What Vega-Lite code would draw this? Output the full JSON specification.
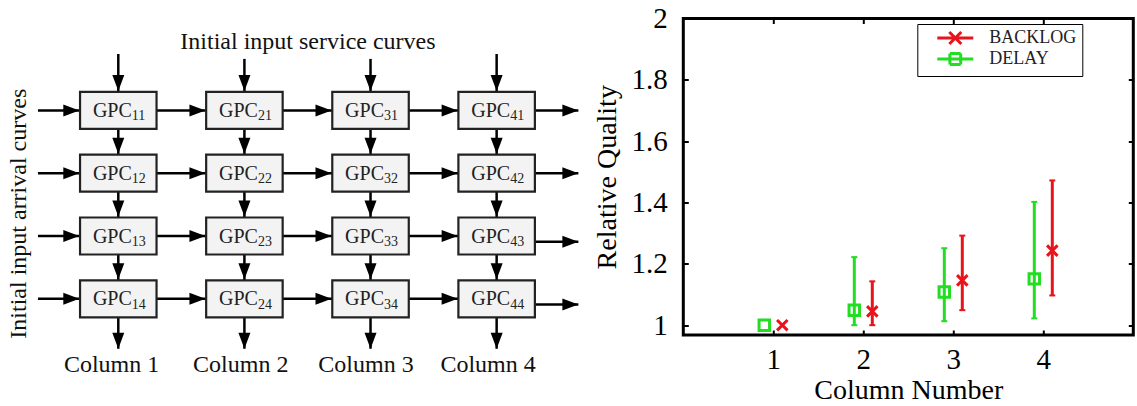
{
  "$schema": "https://vega.github.io/schema/vega-lite/v6.json",
  "background": "white",
  "padding": {"left": 0, "top": 2.5, "right": 0, "bottom": 0},
  "bounds": "flush",
  "spacing": 103.3,
  "resolve": {"legend": {"color": "independent", "shape": "independent"}},
  "config": {"font": "Liberation Serif"},
  "datasets": {
    "boxes": [
      {"x": 1, "y": 1, "sub": "11"}, {"x": 1, "y": 2, "sub": "12"}, {"x": 1, "y": 3, "sub": "13"}, {"x": 1, "y": 4, "sub": "14"},
      {"x": 2, "y": 1, "sub": "21"}, {"x": 2, "y": 2, "sub": "22"}, {"x": 2, "y": 3, "sub": "23"}, {"x": 2, "y": 4, "sub": "24"},
      {"x": 3, "y": 1, "sub": "31"}, {"x": 3, "y": 2, "sub": "32"}, {"x": 3, "y": 3, "sub": "33"}, {"x": 3, "y": 4, "sub": "34"},
      {"x": 4, "y": 1, "sub": "41"}, {"x": 4, "y": 2, "sub": "42"}, {"x": 4, "y": 3, "sub": "43"}, {"x": 4, "y": 4, "sub": "44"}
    ],
    "edges": [
      {"x": 0.363, "y": 1, "x2": 1, "y2": 1, "dir": "h", "tip": "box"},
      {"x": 1, "y": 1, "x2": 2, "y2": 1, "dir": "h", "tip": "box"},
      {"x": 2, "y": 1, "x2": 3, "y2": 1, "dir": "h", "tip": "box"},
      {"x": 3, "y": 1, "x2": 4, "y2": 1, "dir": "h", "tip": "box"},
      {"x": 4, "y": 1, "x2": 4.648, "y2": 1, "dir": "h", "tip": "end"},
      {"x": 0.363, "y": 2, "x2": 1, "y2": 2, "dir": "h", "tip": "box"},
      {"x": 1, "y": 2, "x2": 2, "y2": 2, "dir": "h", "tip": "box"},
      {"x": 2, "y": 2, "x2": 3, "y2": 2, "dir": "h", "tip": "box"},
      {"x": 3, "y": 2, "x2": 4, "y2": 2, "dir": "h", "tip": "box"},
      {"x": 4, "y": 2, "x2": 4.648, "y2": 2, "dir": "h", "tip": "end"},
      {"x": 0.363, "y": 3, "x2": 1, "y2": 3, "dir": "h", "tip": "box"},
      {"x": 1, "y": 3, "x2": 2, "y2": 3, "dir": "h", "tip": "box"},
      {"x": 2, "y": 3, "x2": 3, "y2": 3, "dir": "h", "tip": "box"},
      {"x": 3, "y": 3, "x2": 4, "y2": 3, "dir": "h", "tip": "box"},
      {"x": 4, "y": 3.09, "x2": 4.648, "y2": 3.09, "dir": "h", "tip": "end"},
      {"x": 0.363, "y": 4, "x2": 1, "y2": 4, "dir": "h", "tip": "box"},
      {"x": 1, "y": 4, "x2": 2, "y2": 4, "dir": "h", "tip": "box"},
      {"x": 2, "y": 4, "x2": 3, "y2": 4, "dir": "h", "tip": "box"},
      {"x": 3, "y": 4, "x2": 4, "y2": 4, "dir": "h", "tip": "box"},
      {"x": 4, "y": 4.09, "x2": 4.648, "y2": 4.09, "dir": "h", "tip": "end"},
      {"x": 1, "y": 0.102, "x2": 1, "y2": 1, "dir": "v", "tip": "box"},
      {"x": 1, "y": 1, "x2": 1, "y2": 2, "dir": "v", "tip": "box"},
      {"x": 1, "y": 2, "x2": 1, "y2": 3, "dir": "v", "tip": "box"},
      {"x": 1, "y": 3, "x2": 1, "y2": 4, "dir": "v", "tip": "box"},
      {"x": 1, "y": 4, "x2": 1, "y2": 4.795, "dir": "v", "tip": "end"},
      {"x": 2, "y": 0.18, "x2": 2, "y2": 1, "dir": "v", "tip": "box"},
      {"x": 2, "y": 1, "x2": 2, "y2": 2, "dir": "v", "tip": "box"},
      {"x": 2, "y": 2, "x2": 2, "y2": 3, "dir": "v", "tip": "box"},
      {"x": 2, "y": 3, "x2": 2, "y2": 4, "dir": "v", "tip": "box"},
      {"x": 2, "y": 4, "x2": 2, "y2": 4.795, "dir": "v", "tip": "end"},
      {"x": 3, "y": 0.18, "x2": 3, "y2": 1, "dir": "v", "tip": "box"},
      {"x": 3, "y": 1, "x2": 3, "y2": 2, "dir": "v", "tip": "box"},
      {"x": 3, "y": 2, "x2": 3, "y2": 3, "dir": "v", "tip": "box"},
      {"x": 3, "y": 3, "x2": 3, "y2": 4, "dir": "v", "tip": "box"},
      {"x": 3, "y": 4, "x2": 3, "y2": 4.795, "dir": "v", "tip": "end"},
      {"x": 4, "y": 0.102, "x2": 4, "y2": 1, "dir": "v", "tip": "box"},
      {"x": 4, "y": 1, "x2": 4, "y2": 2, "dir": "v", "tip": "box"},
      {"x": 4, "y": 2, "x2": 4, "y2": 3, "dir": "v", "tip": "box"},
      {"x": 4, "y": 3, "x2": 4, "y2": 4, "dir": "v", "tip": "box"},
      {"x": 4, "y": 4, "x2": 4, "y2": 4.795, "dir": "v", "tip": "end"}
    ],
    "labels": [
      {"x": 2.504, "y": -0.089, "label": "Initial input service curves", "kind": "h"},
      {"x": 0.947, "y": 5.049, "label": "Column 1", "kind": "h"},
      {"x": 1.971, "y": 5.049, "label": "Column 2", "kind": "h"},
      {"x": 2.964, "y": 5.049, "label": "Column 3", "kind": "h"},
      {"x": 3.932, "y": 5.049, "label": "Column 4", "kind": "h"},
      {"x": 0.209, "y": 2.645, "label": "Initial input arrival curves", "kind": "v"}
    ],
    "quality": [
      {"series": "DELAY", "pos": 0.9, "value": 1.0, "lo": null, "hi": null},
      {"series": "DELAY", "pos": 1.9, "value": 1.049, "lo": 1.0, "hi": 1.222},
      {"series": "DELAY", "pos": 2.9, "value": 1.108, "lo": 1.013, "hi": 1.251},
      {"series": "DELAY", "pos": 3.9, "value": 1.151, "lo": 1.022, "hi": 1.402},
      {"series": "BACKLOG", "pos": 1.1, "value": 1.0, "lo": null, "hi": null},
      {"series": "BACKLOG", "pos": 2.1, "value": 1.045, "lo": 1.0, "hi": 1.143},
      {"series": "BACKLOG", "pos": 3.1, "value": 1.146, "lo": 1.049, "hi": 1.292},
      {"series": "BACKLOG", "pos": 4.1, "value": 1.243, "lo": 1.097, "hi": 1.472}
    ]
  },
  "hconcat": [
    {
      "width": 580,
      "height": 316.5,
      "view": {"stroke": null},
      "layer": [
        {
          "data": {"name": "edges"},
          "mark": {"type": "rule", "strokeWidth": 2.5, "color": "black"},
          "encoding": {
            "x": {"field": "x", "type": "quantitative", "scale": {"domain": [0.062, 4.661], "nice": false, "zero": false}, "axis": null},
            "x2": {"field": "x2"},
            "y": {"field": "y", "type": "quantitative", "scale": {"domain": [-0.4634, 4.576], "nice": false, "zero": false, "reverse": true}, "axis": null},
            "y2": {"field": "y2"}
          }
        },
        {
          "data": {"name": "boxes"},
          "mark": {"type": "point", "shape": "M-1,-0.4837H1V0.4837H-1Z", "size": 5852, "filled": true, "fill": "#f3f3f3", "stroke": "#222222", "strokeWidth": 2.2, "opacity": 1},
          "encoding": {
            "x": {"field": "x", "type": "quantitative", "scale": {"domain": [0.062, 4.661], "nice": false, "zero": false}, "axis": null},
            "y": {"field": "y", "type": "quantitative", "scale": {"domain": [-0.4634, 4.576], "nice": false, "zero": false, "reverse": true}, "axis": null}
          }
        },
        {
          "data": {"name": "edges"},
          "transform": [{"filter": "datum.dir === 'h' && datum.tip === 'box'"}],
          "mark": {"type": "point", "shape": "M-2,-0.75L0,0L-2,0.75Z", "size": 256, "filled": true, "color": "black", "opacity": 1, "xOffset": -39},
          "encoding": {
            "x": {"field": "x2", "type": "quantitative", "scale": {"domain": [0.062, 4.661], "nice": false, "zero": false}, "axis": null},
            "y": {"field": "y2", "type": "quantitative", "scale": {"domain": [-0.4634, 4.576], "nice": false, "zero": false, "reverse": true}, "axis": null}
          }
        },
        {
          "data": {"name": "edges"},
          "transform": [{"filter": "datum.dir === 'h' && datum.tip === 'end'"}],
          "mark": {"type": "point", "shape": "M-2,-0.75L0,0L-2,0.75Z", "size": 256, "filled": true, "color": "black", "opacity": 1},
          "encoding": {
            "x": {"field": "x2", "type": "quantitative", "scale": {"domain": [0.062, 4.661], "nice": false, "zero": false}, "axis": null},
            "y": {"field": "y2", "type": "quantitative", "scale": {"domain": [-0.4634, 4.576], "nice": false, "zero": false, "reverse": true}, "axis": null}
          }
        },
        {
          "data": {"name": "edges"},
          "transform": [{"filter": "datum.dir === 'v' && datum.tip === 'box'"}],
          "mark": {"type": "point", "shape": "M-0.75,-2L0,0L0.75,-2Z", "size": 256, "filled": true, "color": "black", "opacity": 1, "yOffset": -19.5},
          "encoding": {
            "x": {"field": "x2", "type": "quantitative", "scale": {"domain": [0.062, 4.661], "nice": false, "zero": false}, "axis": null},
            "y": {"field": "y2", "type": "quantitative", "scale": {"domain": [-0.4634, 4.576], "nice": false, "zero": false, "reverse": true}, "axis": null}
          }
        },
        {
          "data": {"name": "edges"},
          "transform": [{"filter": "datum.dir === 'v' && datum.tip === 'end'"}],
          "mark": {"type": "point", "shape": "M-0.75,-2L0,0L0.75,-2Z", "size": 256, "filled": true, "color": "black", "opacity": 1},
          "encoding": {
            "x": {"field": "x2", "type": "quantitative", "scale": {"domain": [0.062, 4.661], "nice": false, "zero": false}, "axis": null},
            "y": {"field": "y2", "type": "quantitative", "scale": {"domain": [-0.4634, 4.576], "nice": false, "zero": false, "reverse": true}, "axis": null}
          }
        },
        {
          "data": {"name": "boxes"},
          "mark": {"type": "text", "text": "GPC", "align": "right", "baseline": "alphabetic", "dx": 13.5, "dy": 6.6, "fontSize": 20, "font": "Liberation Serif", "color": "#222222"},
          "encoding": {
            "x": {"field": "x", "type": "quantitative", "scale": {"domain": [0.062, 4.661], "nice": false, "zero": false}, "axis": null},
            "y": {"field": "y", "type": "quantitative", "scale": {"domain": [-0.4634, 4.576], "nice": false, "zero": false, "reverse": true}, "axis": null}
          }
        },
        {
          "data": {"name": "boxes"},
          "mark": {"type": "text", "align": "left", "baseline": "alphabetic", "dx": 13.5, "dy": 10, "fontSize": 14, "font": "Liberation Serif", "color": "#222222"},
          "encoding": {
            "x": {"field": "x", "type": "quantitative", "scale": {"domain": [0.062, 4.661], "nice": false, "zero": false}, "axis": null},
            "y": {"field": "y", "type": "quantitative", "scale": {"domain": [-0.4634, 4.576], "nice": false, "zero": false, "reverse": true}, "axis": null},
            "text": {"field": "sub", "type": "nominal"}
          }
        },
        {
          "data": {"name": "labels"},
          "transform": [{"filter": "datum.kind === 'h'"}],
          "mark": {"type": "text", "align": "center", "baseline": "middle", "fontSize": 24, "font": "Liberation Serif", "color": "#111111"},
          "encoding": {
            "x": {"field": "x", "type": "quantitative", "scale": {"domain": [0.062, 4.661], "nice": false, "zero": false}, "axis": null},
            "y": {"field": "y", "type": "quantitative", "scale": {"domain": [-0.4634, 4.576], "nice": false, "zero": false, "reverse": true}, "axis": null},
            "text": {"field": "label", "type": "nominal"}
          }
        },
        {
          "data": {"name": "labels"},
          "transform": [{"filter": "datum.kind === 'v'"}],
          "mark": {"type": "text", "align": "center", "baseline": "middle", "angle": 270, "fontSize": 24, "font": "Liberation Serif", "color": "#111111"},
          "encoding": {
            "x": {"field": "x", "type": "quantitative", "scale": {"domain": [0.062, 4.661], "nice": false, "zero": false}, "axis": null},
            "y": {"field": "y", "type": "quantitative", "scale": {"domain": [-0.4634, 4.576], "nice": false, "zero": false, "reverse": true}, "axis": null},
            "text": {"field": "label", "type": "nominal"}
          }
        }
      ]
    },
    {
      "width": 450,
      "height": 316.5,
      "view": {"stroke": "black", "strokeWidth": 3},
      "data": {"name": "quality"},
      "resolve": {"axis": {"x": "independent", "y": "independent"}},
      "layer": [
        {
          "mark": {"type": "rule", "strokeWidth": 3, "opacity": 1},
          "encoding": {
            "x": {
              "field": "pos", "type": "quantitative",
              "scale": {"domain": [0, 5], "nice": false, "zero": false},
              "axis": {"orient": "bottom", "values": [1, 2, 3, 4], "format": "~g", "domain": false, "grid": false, "ticks": true, "tickSize": -5, "tickWidth": 2, "tickColor": "black", "labelFont": "Liberation Serif", "labelFontSize": 29, "labelColor": "black", "labelPadding": 15, "labelFlush": false, "title": "Column Number", "titleFont": "Liberation Serif", "titleFontSize": 28, "titleFontWeight": "normal", "titleColor": "black", "titlePadding": 2}
            },
            "y": {
              "field": "lo", "type": "quantitative",
              "scale": {"domain": [0.968, 2], "nice": false, "zero": false},
              "axis": {"orient": "left", "values": [1, 1.2, 1.4, 1.6, 1.8, 2], "format": "~g", "domain": false, "grid": false, "ticks": true, "tickSize": -5, "tickWidth": 2, "tickColor": "black", "labelFont": "Liberation Serif", "labelFontSize": 29, "labelColor": "black", "labelPadding": 21, "labelFlush": false, "title": "Relative Quality", "titleFont": "Liberation Serif", "titleFontSize": 28, "titleFontWeight": "normal", "titleColor": "black", "titlePadding": 10}
            },
            "y2": {"field": "hi"},
            "color": {
              "field": "series", "type": "nominal",
              "scale": {"domain": ["BACKLOG", "DELAY"], "range": ["#e8141c", "#22dd22"]},
              "legend": {
                "orient": "none", "legendX": 234, "legendY": 5.5,
                "title": null,
                "labelFont": "Liberation Serif", "labelFontSize": 18, "labelColor": "#222222",
                "labelExpr": "datum.label + '\u2003\u2003'",
                "symbolSize": 144, "symbolStrokeWidth": 3, "symbolFillColor": "transparent", "symbolOpacity": 1,
                "labelOffset": 37, "padding": 5, "symbolOffset": 12, "rowPadding": -8,
                "strokeColor": "black"
              }
            }
          }
        },
        {
          "mark": {"type": "tick", "orient": "horizontal", "size": 6, "thickness": 2, "opacity": 1},
          "encoding": {
            "x": {"field": "pos", "type": "quantitative", "axis": null},
            "y": {"field": "lo", "type": "quantitative", "axis": null},
            "color": {"field": "series", "type": "nominal"}
          }
        },
        {
          "mark": {"type": "tick", "orient": "horizontal", "size": 6, "thickness": 2, "opacity": 1},
          "encoding": {
            "x": {"field": "pos", "type": "quantitative", "axis": null},
            "y": {"field": "hi", "type": "quantitative", "axis": null},
            "color": {"field": "series", "type": "nominal"}
          }
        },
        {
          "transform": [{"filter": "datum.series === 'DELAY'"}],
          "mark": {"type": "point", "shape": "square", "filled": false, "size": 110, "strokeWidth": 3, "opacity": 1},
          "encoding": {
            "x": {"field": "pos", "type": "quantitative",
              "axis": {"orient": "top", "values": [1, 2, 3, 4], "labels": false, "domain": false, "grid": false, "ticks": true, "tickSize": -5, "tickWidth": 2, "tickColor": "black", "title": null}},
            "y": {"field": "value", "type": "quantitative",
              "axis": {"orient": "right", "values": [1, 1.2, 1.4, 1.6, 1.8, 2], "labels": false, "domain": false, "grid": false, "ticks": true, "tickSize": -5, "tickWidth": 2, "tickColor": "black", "title": null}},
            "color": {"field": "series", "type": "nominal"}
          }
        },
        {
          "transform": [{"filter": "datum.series === 'BACKLOG'"}],
          "mark": {"type": "point", "shape": "M-1,-1L1,1M-1,1L1,-1", "filled": false, "size": 110, "strokeWidth": 3, "opacity": 1},
          "encoding": {
            "x": {"field": "pos", "type": "quantitative", "axis": null},
            "y": {"field": "value", "type": "quantitative", "axis": null},
            "color": {"field": "series", "type": "nominal"}
          }
        },
        {
          "transform": [{"filter": "datum.pos > 100"}],
          "mark": {"type": "point", "filled": false, "size": 144, "strokeWidth": 3, "opacity": 1},
          "encoding": {
            "x": {"field": "pos", "type": "quantitative", "axis": null},
            "y": {"field": "value", "type": "quantitative", "axis": null},
            "color": {"field": "series", "type": "nominal"},
            "shape": {
              "field": "series", "type": "nominal",
              "scale": {"domain": ["BACKLOG", "DELAY"], "range": ["M-1,0H5M1,-1L3,1M1,1L3,-1", "M-1,0H5M1.1,-0.9H2.9M2.9,-0.9V0.9M2.9,0.9H1.1M1.1,0.9V-0.9"]}
            }
          }
        }
      ]
    }
  ]
}
